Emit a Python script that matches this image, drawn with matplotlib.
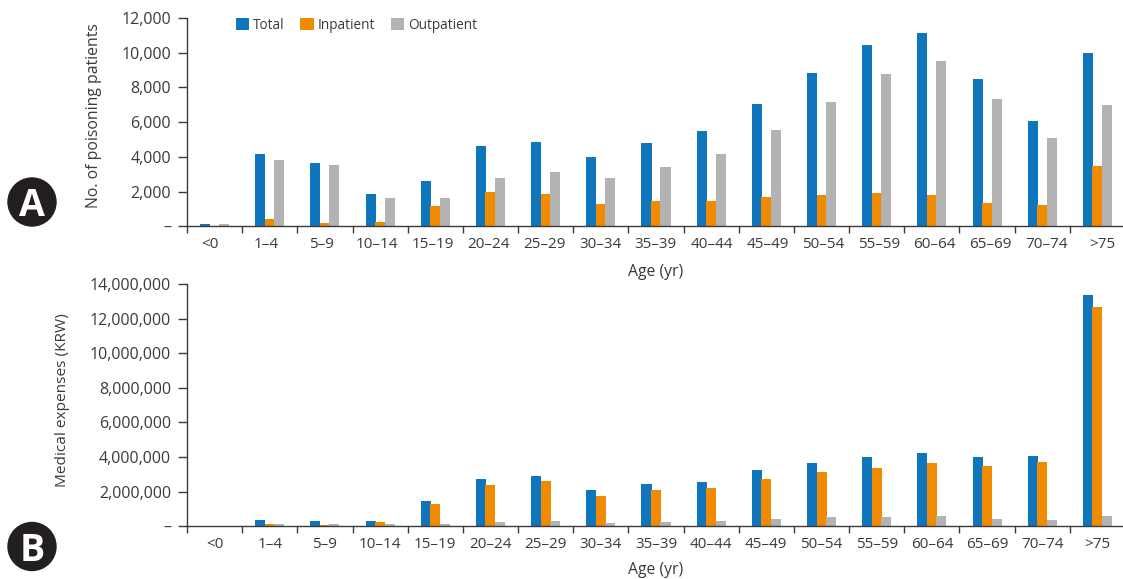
import matplotlib
matplotlib.use("Agg")
import matplotlib.pyplot as plt
import numpy as np

plt.rcParams["font.family"] = ["Open Sans", "DejaVu Sans"]

age_groups = ["<0", "1–4", "5–9", "10–14", "15–19", "20–24", "25–29", "30–34", "35–39",
              "40–44", "45–49", "50–54", "55–59", "60–64", "65–69", "70–74", ">75"]

patients_total = [134, 4166, 3648, 1862, 2611, 4627, 4858, 3994, 4800,
                  5491, 7046, 8832, 10445, 11136, 8486, 6067, 9984]
patients_inpatient = [0, 422, 192, 250, 1171, 1978, 1862, 1286, 1459,
                      1459, 1690, 1805, 1920, 1805, 1344, 1229, 3475]
patients_outpatient = [134, 3821, 3533, 1632, 1632, 2784, 3130, 2784, 3418,
                       4166, 5549, 7160, 8774, 9523, 7334, 5088, 6989]

expenses_total = [0, 366000, 308000, 308000, 1463000, 2733000, 2906000, 2098000, 2444000,
                  2559000, 3252000, 3656000, 4003000, 4234000, 4003000, 4060000, 13355000]
expenses_inpatient = [0, 135000, 77000, 250000, 1289000, 2386000, 2617000, 1751000, 2098000,
                      2213000, 2733000, 3137000, 3368000, 3656000, 3483000, 3714000, 12663000]
expenses_outpatient = [0, 135000, 135000, 135000, 135000, 250000, 308000, 192000, 250000,
                       308000, 423000, 539000, 539000, 597000, 423000, 366000, 597000]

patient_ticks = [0, 2000, 4000, 6000, 8000, 10000, 12000]
expense_ticks = [0, 2000000, 4000000, 6000000, 8000000, 10000000, 12000000, 14000000]

BLUE = "#0f75bc"
ORANGE = "#f08a00"
GREY = "#b3b3b3"
DARK = "#3a3a3a"
W, H = 1123, 579


def add_axes_px(left, top, right, bottom):
    return fig.add_axes([left / W, 1 - bottom / H, (right - left) / W, (bottom - top) / H])


def tick_text(value):
    return "–" if value == 0 else f"{value:,}"


def draw_panel(ax, total, inpatient, outpatient, yticks, ylabel, ylabel_size, ylabel_pos, label_x, xlabel_y):
    x = np.arange(len(age_groups))
    ax.bar(x - 0.172, total, 0.182, color=BLUE, label="Total")
    ax.bar(x, inpatient, 0.182, color=ORANGE, label="Inpatient")
    ax.bar(x + 0.172, outpatient, 0.182, color=GREY, label="Outpatient")

    ax.set_xlim(-0.5, len(age_groups) - 0.5)
    ax.set_ylim(0, yticks[-1])
    ax.spines["top"].set_visible(False)
    ax.spines["right"].set_visible(False)
    ax.spines["left"].set_color(DARK)
    ax.spines["bottom"].set_color(DARK)
    ax.spines["left"].set_linewidth(1.0)
    ax.spines["bottom"].set_linewidth(1.0)

    ax.set_yticks(yticks)
    ax.set_yticklabels([tick_text(v) for v in yticks])
    ax.tick_params(axis="y", length=6.5, width=1.0, color=DARK, labelcolor=DARK, labelsize=11.5, pad=5)

    # group separators are the major ticks, the labels sit on minor ticks
    ax.set_xticks(np.arange(len(age_groups) + 1) - 0.5)
    ax.set_xticklabels([])
    ax.set_xticks(label_x, minor=True)
    ax.set_xticklabels(age_groups, minor=True)
    ax.tick_params(axis="x", which="major", length=5, width=1.0, color=DARK)
    ax.tick_params(axis="x", which="minor", length=0, labelcolor=DARK, labelsize=11, pad=8)

    ax.set_ylabel(ylabel, fontsize=ylabel_size, color=DARK)
    ax.yaxis.set_label_coords(*ylabel_pos)
    ax.set_xlabel("Age (yr)", fontsize=11.3, color=DARK)
    ax.xaxis.set_label_coords(0.4995, xlabel_y)


fig = plt.figure(figsize=(W / 100, H / 100), dpi=100)

ax_a = add_axes_px(187, 18, 1125, 226.3)
positions_a = np.arange(len(age_groups)) * 1.0102 - 0.083
draw_panel(ax_a, patients_total, patients_inpatient, patients_outpatient, patient_ticks,
           "No. of poisoning patients", 11.3, (-0.0905, 0.534), positions_a, -0.181)
ax_a.legend(loc="upper left", bbox_to_anchor=(0.0522, 1.0), ncol=3, frameon=False, fontsize=9.8,
            borderpad=0, borderaxespad=0, handlelength=0.97, handleheight=0.97,
            handletextpad=0.3, columnspacing=1.15, labelcolor=DARK)

ax_b = add_axes_px(187, 284, 1125, 526.3)
draw_panel(ax_b, expenses_total, expenses_inpatient, expenses_outpatient, expense_ticks,
           "Medical expenses (KRW)", 11.1, (-0.1245, 0.522), np.arange(len(age_groups)), -0.148)

# round panel badges
overlay = fig.add_axes([0, 0, 1, 1])
overlay.set_xlim(0, W)
overlay.set_ylim(H, 0)
overlay.axis("off")
for letter, cy in [("A", 202), ("B", 546.5)]:
    overlay.add_patch(plt.Circle((32, cy), 24, color="#231f20"))
    overlay.text(32, cy, letter, color="white", fontsize=27, fontweight="bold",
                 ha="center", va="center_baseline")

fig.savefig("out.png", dpi=100)
